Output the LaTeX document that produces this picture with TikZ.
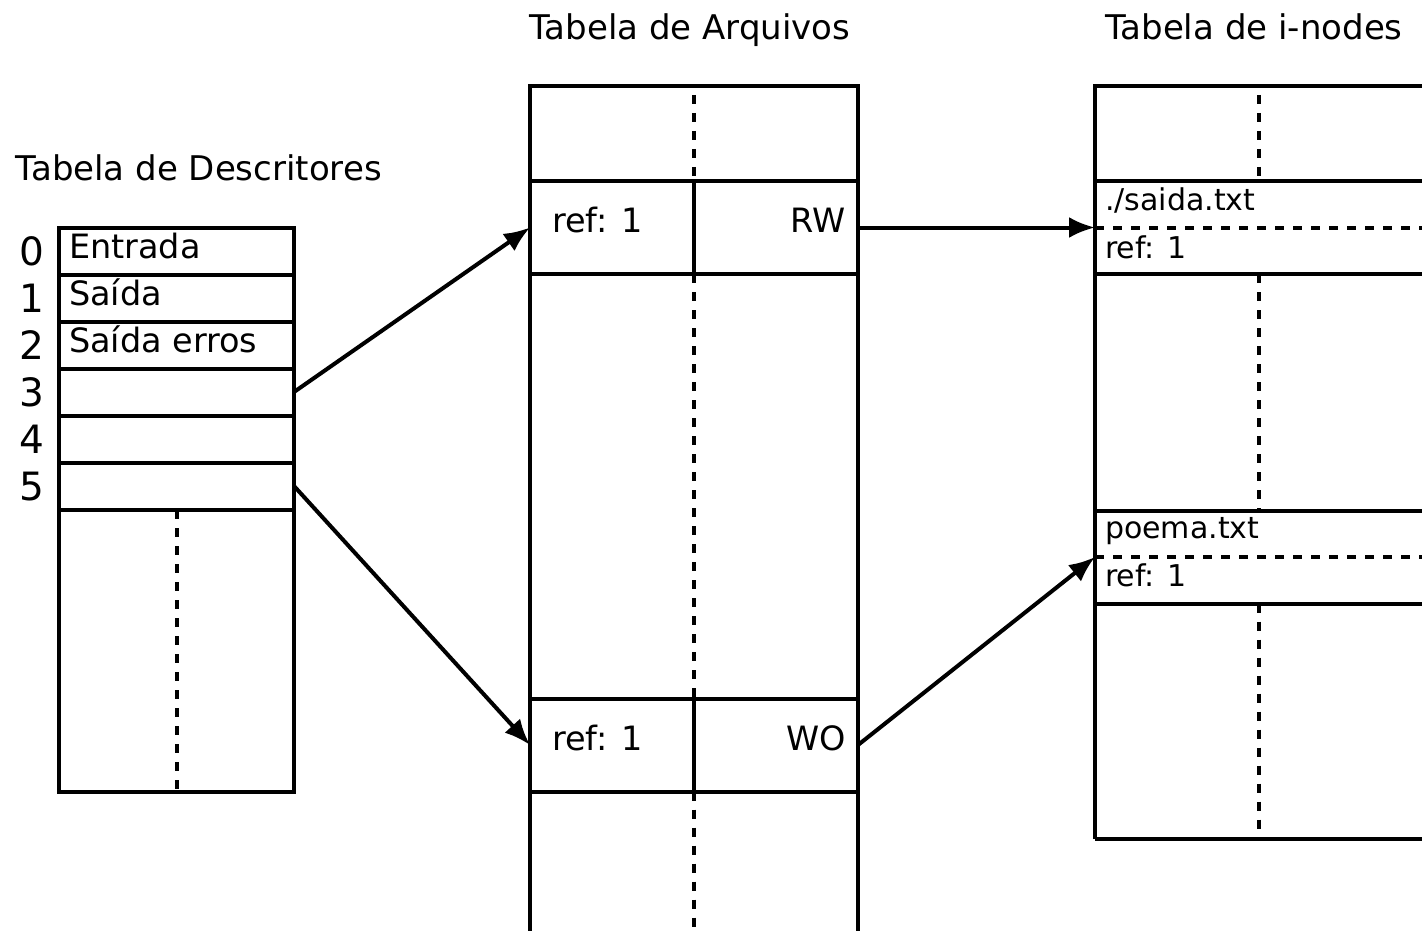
\documentclass[tikz,border=0pt]{standalone}
\usepackage{fontspec}
\setmainfont{DejaVu Sans}
\usetikzlibrary{arrows.meta,positioning}

\begin{document}
\begin{tikzpicture}[
    x=1pt, y=-1pt,
    line width=4pt,
    title/.style={font=\fontsize{34}{40}\selectfont, inner sep=0pt},
    txt/.style={font=\fontsize{33.5}{40}\selectfont, inner sep=0pt},
    small/.style={font=\fontsize{30}{36}\selectfont, inner sep=0pt},
    num/.style={font=\fontsize{39}{46}\selectfont, inner sep=0pt},
    cell/.style={draw, minimum width=235pt, minimum height=47pt, inner sep=0pt, outer sep=0pt},
    slot/.style={minimum width=328pt, minimum height=93pt, inner sep=0pt, outer sep=0pt},
    sep/.style={dash pattern=on 9pt off 9pt},
    ptr/.style={-{Latex[length=26pt,width=21pt]}}
]
\useasboundingbox (0,0) rectangle (1422,931);

% Tabela de Descritores
\node[title, anchor=base west] (tdesc) at (14,180) {Tabela de Descritores};
\foreach \i/\t in {0/Entrada,1/Saída,2/Saída erros,3/,4/,5/} {
    \node[cell] (d\i) at (176.5,{251+47*\i}) {};
    \node[num, anchor=base] (n\i) at (32,{265+47*\i}) {\i};
    \node[txt, anchor=base west] (t\i) at (67,{258+47*\i}) {\t};
}
\draw (d5.south west) -- (59,792) -- (294,792) -- (d5.south east);
\draw[sep] (176.5,510) -- (176.5,792);

% Tabela de Arquivos
\node[title, anchor=base] (tarq) at (690,40) {Tabela de Arquivos};
\draw (530,931) -- (530,86) -- (858,86) -- (858,931);
\node[slot, draw] (f1) at (694,227.5) {};
\node[slot, draw] (f2) at (694,745) {};
\draw (f1.north) -- (f1.south);
\draw (f2.north) -- (f2.south);
\draw[sep] (694,95) -- (f1.north);
\draw[sep] (f1.south) -- (f2.north);
\draw[sep] (f2.south) -- (694,931);
\node[txt, anchor=base west] (r1) at (550,232) {ref: 1};
\node[txt, anchor=base east] (m1) at (848,232) {RW};
\node[txt, anchor=base west] (r2) at (550,750) {ref: 1};
\node[txt, anchor=base east] (m2) at (848,750) {WO};

% Tabela de i-nodes
\node[title, anchor=base] (tino) at (1254,40) {Tabela de i-nodes};
\draw (1095,839) -- (1095,86) -- (1422,86);
\draw (1095,839) -- (1422,839);
\node[slot, minimum width=327pt] (i1) at (1258.5,227.5) {};
\node[slot, minimum width=327pt] (i2) at (1258.5,557) {};
\foreach \n in {i1,i2} {
    \draw (\n.north west) -- (\n.north east);
    \draw (\n.south west) -- (\n.south east);
    \draw[sep] (\n.west) -- (\n.east);
}
\draw[sep] (1258.5,95) -- (i1.north);
\draw[sep] (i1.south) -- (i2.north);
\draw[sep] (i2.south) -- (1258.5,839);
\node[small, anchor=base west] (a1) at (1103,210) {./saida.txt};
\node[small, anchor=base west] (a2) at (1103,258) {ref: 1};
\node[small, anchor=base west] (b1) at (1103,538) {poema.txt};
\node[small, anchor=base west] (b2) at (1103,586) {ref: 1};

% Ponteiros
\draw[ptr] (d3.east) -- (f1.west);
\draw[ptr] (d5.east) -- (f2.west);
\draw[ptr] (f1.east) -- (i1.west);
\draw[ptr] (f2.east) -- (i2.west);
\end{tikzpicture}
\end{document}
